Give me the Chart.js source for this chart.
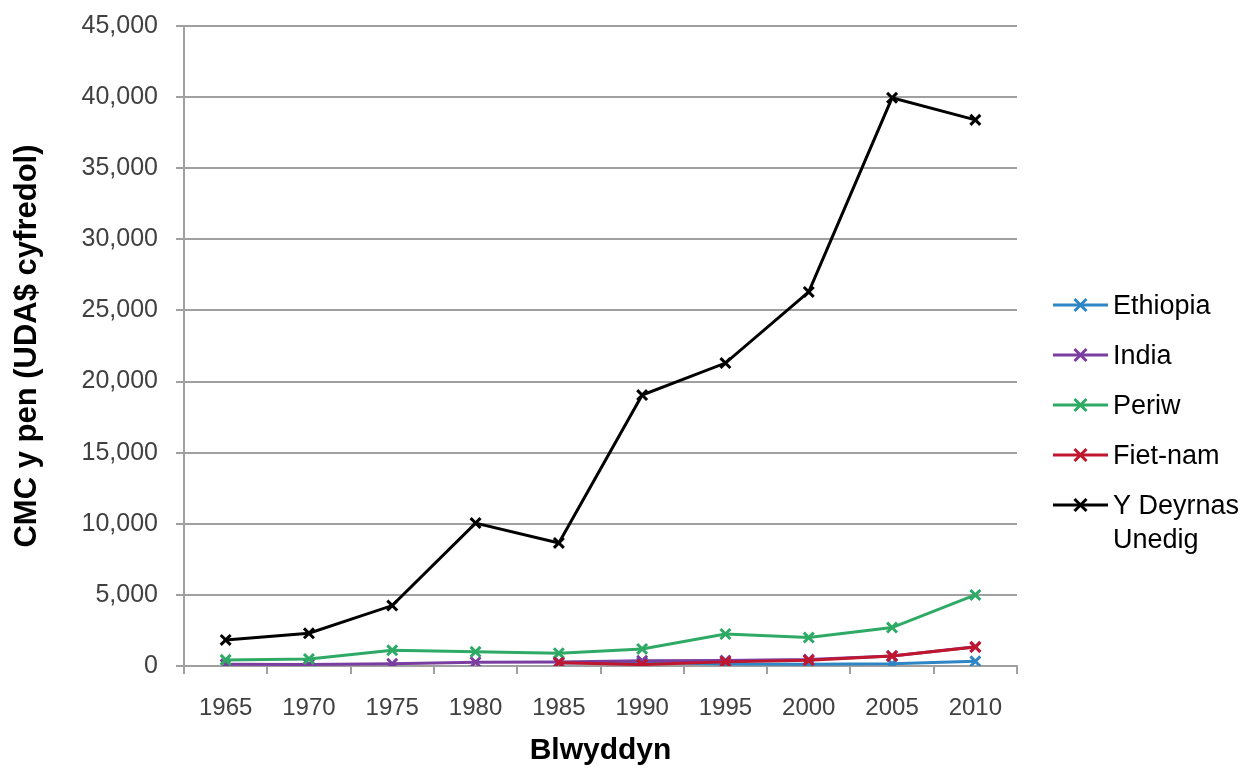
<!DOCTYPE html>
<html>
<head>
<meta charset="utf-8">
<script src="https://cdn.jsdelivr.net/npm/chart.js@4.4.1/dist/chart.umd.min.js"></script>
<style>
  html, body { margin: 0; padding: 0; background: #fff; }
</style>
</head>
<body>
<canvas id="chart" width="1260" height="770"></canvas>
<script>
// data
const years = ["1965", "1970", "1975", "1980", "1985", "1990", "1995", "2000", "2005", "2010"];
const ethiopia = [null, null, null, null, 210, 240, 140, 120, 160, 330];
const india = [120, 110, 160, 270, 290, 370, 380, 450, 710, 1350];
const periw = [430, 500, 1100, 1000, 900, 1200, 2250, 2000, 2700, 5000];
const fietnam = [null, null, null, null, 230, 100, 290, 400, 700, 1330];
const deyrnasUnedig = [1830, 2300, 4250, 10050, 8650, 19050, 21300, 26300, 39950, 38400];

const seriesNames = ["Ethiopia", "India", "Periw", "Fiet-nam", "Y Deyrnas Unedig"];
const seriesColors = ["#2f86c4", "#7a3da0", "#2eaa66", "#c0162e", "#000000"];
const seriesData = [ethiopia, india, periw, fietnam, deyrnasUnedig];

const yMin = 0, yMax = 45000, yStep = 5000;

const FONT = "'Liberation Sans', Arial, sans-serif";

// legend on the right, drawn by hand so the long label can wrap
const sideLegend = {
  id: "sideLegend",
  afterDraw(chart) {
    const ctx = chart.ctx;
    const lineX = 1053, lineW = 55, textX = 1113;
    let y = 305;
    ctx.save();
    ctx.font = "27px " + FONT;
    ctx.textBaseline = "middle";
    chart.data.datasets.forEach(ds => {
      ctx.strokeStyle = ds.borderColor;
      ctx.lineWidth = 3;
      ctx.beginPath();
      ctx.moveTo(lineX, y);
      ctx.lineTo(lineX + lineW, y);
      ctx.stroke();
      const cx = lineX + lineW / 2, r = 6;
      ctx.beginPath();
      ctx.moveTo(cx - r, y - r); ctx.lineTo(cx + r, y + r);
      ctx.moveTo(cx + r, y - r); ctx.lineTo(cx - r, y + r);
      ctx.stroke();

      // wrap words
      const words = ds.label.split(" ");
      const lines = [];
      let cur = "";
      words.forEach(w => {
        const test = cur ? cur + " " + w : w;
        if (cur && ctx.measureText(test).width > 145) { lines.push(cur); cur = w; }
        else cur = test;
      });
      lines.push(cur);
      ctx.fillStyle = "#000";
      lines.forEach((t, i) => ctx.fillText(t, textX, y + 2 + i * 34));
      y += 50;
    });
    ctx.restore();
  }
};

const datasets = seriesNames.map((name, i) => ({
  label: name,
  data: seriesData[i],
  borderColor: seriesColors[i],
  backgroundColor: seriesColors[i],
  borderWidth: 3,
  pointStyle: "crossRot",
  pointRadius: 7,
  pointBorderWidth: 3,
  tension: 0,
  spanGaps: false,
  order: seriesNames.length - 1 - i, // last series on top, like Excel
}));

new Chart(document.getElementById("chart"), {
  type: "line",
  data: { labels: years, datasets: datasets },
  options: {
    responsive: false,
    animation: false,
    layout: { padding: { left: 0, right: 243, top: 26, bottom: 0 } },
    plugins: {
      legend: { display: false },
      tooltip: { enabled: false },
    },
    scales: {
      x: {
        offset: true,
        afterFit: s => { s.height = 104; },
        grid: {
          offset: true,
          drawOnChartArea: false,
          drawTicks: true,
          tickLength: 8,
          color: "#a0a0a0",
          lineWidth: 2,
        },
        border: { display: true, color: "#a0a0a0", width: 2 },
        ticks: {
          color: "#404040",
          font: { family: FONT, size: 24 },
          padding: 20,
          maxRotation: 0,
        },
        title: {
          display: true,
          text: "Blwyddyn",
          color: "#000",
          font: { family: FONT, size: 30, weight: "bold" },
          padding: { top: 0, bottom: 1 },
        },
      },
      y: {
        min: yMin,
        max: yMax,
        afterFit: s => { s.width = 184; s.paddingTop = 0; s.paddingBottom = 0; },
        grid: {
          color: "#a0a0a0",
          lineWidth: 2,
          tickLength: 8,
        },
        border: { display: true, color: "#a0a0a0", width: 2 },
        ticks: {
          stepSize: yStep,
          color: "#404040",
          font: { family: FONT, size: 25 },
          padding: 18,
          callback: v => v.toLocaleString("en-US"),
        },
        title: {
          display: true,
          text: "CMC y pen (UDA$ cyfredol)",
          color: "#000",
          font: { family: FONT, size: 31, weight: "bold" },
          padding: { top: 9, bottom: 0 },
        },
      },
    },
  },
  plugins: [sideLegend],
});
</script>
</body>
</html>
